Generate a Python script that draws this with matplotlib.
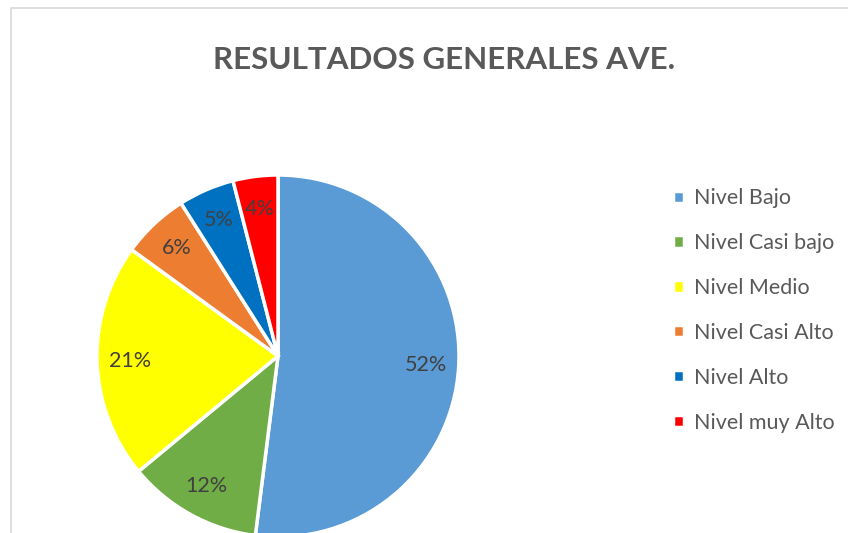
import matplotlib.pyplot as plt
from matplotlib.patches import Rectangle

# === Data ===
labels = ["Nivel Bajo", "Nivel Casi bajo", "Nivel Medio",
          "Nivel Casi Alto", "Nivel Alto", "Nivel muy Alto"]
values = [52, 12, 21, 6, 5, 4]
colors = ["#5B9BD5", "#70AD47", "#FFFF00", "#ED7D31", "#0070C0", "#FF0000"]

W, H = 848, 533
fig = plt.figure(figsize=(W / 100, H / 100), dpi=100)

# chart frame (only left and top edges visible in the crop)
fig.patches.append(Rectangle((11 / W, -0.1), 1.2, (H - 8) / H + 0.1,
                             transform=fig.transFigure, fill=False,
                             edgecolor="#D9D9D9", linewidth=1.2))

# axes in pixel units so the pie sits where it should
ax = fig.add_axes([0, 0, 1, 1])

wedges, texts, autotexts = ax.pie(
    values, colors=colors, startangle=90, counterclock=False,
    center=(278, H - 356), radius=181, frame=True,
    autopct="%d%%", pctdistance=0.82,
    wedgeprops=dict(edgecolor="white", linewidth=2.5),
    textprops=dict(color="#404040", fontsize=15.5, family="Lato"))
ax.set_xlim(0, W)
ax.set_ylim(0, H)
ax.set_aspect("equal")
ax.axis("off")

fig.text(444 / W, 1 - 60 / H, "RESULTADOS GENERALES AVE.", ha="center", va="center",
         fontsize=22.6, fontweight="bold", color="#595959", family="Lato")

leg = fig.legend(wedges, labels, loc="upper left", bbox_to_anchor=(654 / W, 1 - 169 / H),
                 frameon=False, handlelength=0.5, handleheight=0.5, handletextpad=0.45,
                 labelspacing=1.155, prop=dict(family="Lato", size=15.5))
for t in leg.get_texts():
    t.set_color("#595959")

fig.savefig("out.png", dpi=100)
